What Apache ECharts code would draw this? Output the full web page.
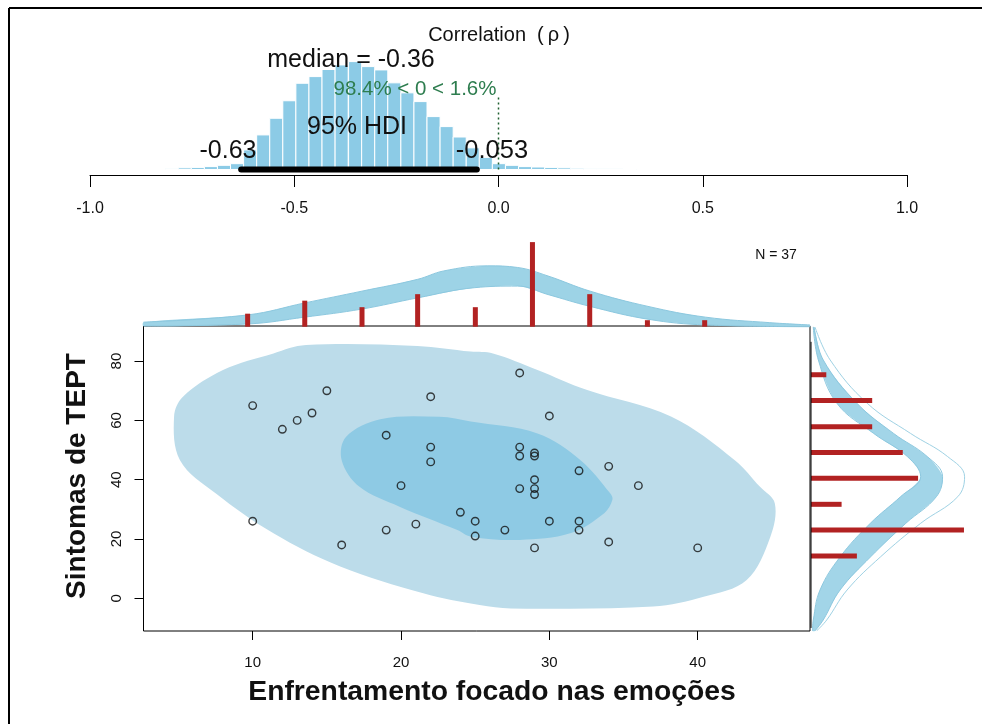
<!DOCTYPE html>
<html><head><meta charset="utf-8">
<script src="https://cdn.jsdelivr.net/npm/echarts@6/dist/echarts.min.js"></script>
<style>html,body{margin:0;padding:0;background:#fff}#c{width:982px;height:724px}</style>
</head><body><div id="c"></div>
<script>
// ---- Posterior of correlation (top panel) ----
const rhoBinCenters = [-0.800,-0.768,-0.736,-0.704,-0.672,-0.640,-0.608,-0.576,-0.544,-0.512,-0.480,-0.448,-0.416,-0.384,-0.351,-0.319,-0.287,-0.255,-0.223,-0.191,-0.159,-0.127,-0.095,-0.063,-0.031,0.001,0.033,0.065,0.097,0.129,0.161,0.193,0.225,0.257,0.289,0.321];
const rhoDensity    = [0.02,0.04,0.05,0.07,0.10,0.14,0.47,0.83,1.23,1.65,2.07,2.23,2.40,2.51,2.59,2.47,2.39,2.08,1.84,1.63,1.27,1.03,0.78,0.52,0.29,0.14,0.10,0.07,0.06,0.05,0.04,0.03,0.02,0.02,0.015,0.01];
const rhoBinWidth = 0.032;
const rhoTickValues = [-1,-0.5,0,0.5,1];
const rhoTickLabels = ['-1.0','-0.5','0.0','0.5','1.0'];
const hdiRange = [-0.63,-0.053];
const compValue = 0;
const compLineTop = 1.79;

// ---- Scatter data ----
const emoX  = [10,15,14,13,12,22,19,22,22,20,24,25,25,10,19,21,16,28,30,28,28,29,29,32,34,36,29,29,29,28,27,30,32,32,34,29,40];
const teptY = [65,70,62.5,60,57,68,55,51,46,38,29,26,21,26,23,25,18,76,61.5,51,48,48,49,43,44.5,38,40,37,35,37,23,26,26,23,19,17,17];
const xTicks = [10,20,30,40];
const yTicks = [0,20,40,60,80];

// ---- Marginal histograms ----
const xHistCenters = [9.66,13.51,17.37,21.12,25.01,28.86,32.72,36.61,40.47];
const xHistCounts  = [2,4,3,5,3,13,5,1,1];
const yHistCenters = [14.3,23.0,31.7,40.5,49.2,57.9,66.7,75.4];
const yHistCounts  = [3,10,2,7,6,4,4,1];

// ---- Marginal posterior predictive envelopes ----
const xDensUpperX = [2.64,9.69,13.5,17.36,21.12,22.88,25.81,27.86,29.91,32.75,36.65,40.52,44.86,47.57];
const xDensUpperY = [0.7,1.82,3.65,5.46,7.28,8.57,9.35,9.10,7.79,5.46,3.12,1.47,0.62,0.27];
const xDensLowerX = [2.64,9.69,13.5,17.36,21.12,24.93,27.86,29.91,32.75,36.65,40.52,47.57];
const xDensLowerY = [0.1,0.42,1.47,2.71,4.43,5.99,6.24,4.94,3.12,1.15,0.27,0];

const yDensY      = [91.5,80.4,65.8,55.6,47.8,41.0,34.3,25.3,14.0,2.8,-7.3,-11.0];
const yDensOuterC = [0.26,1.25,3.67,6.51,8.93,10.04,9.6,7.17,4.55,2.36,1.03,0.37];
const yDensMidC   = [0.2,0.8,3.0,5.4,7.6,8.6,8.2,6.2,3.9,1.9,0.8,0.26];
const yDensInnerC = [0.15,0.48,1.69,4.1,6.3,7.17,5.86,3.88,1.91,0.59,0.15,0.1];

// ---- Bivariate contours ----
const outerContourX = [4.7,5.3,8.0,11.4,13.6,21.1,24.7,26.2,29.2,32.5,38.2,42.5,44.2,45.2,44.9,43.3,40.4,37.0,27.4,25.3,21.5,15.9,11.4,7.5,5.1];
const outerContourY = [61.2,68,77,82.6,85.4,85.1,83.2,82.6,77,70.3,61.3,46.6,37.6,32,20.8,6.2,0.5,-2.8,-3.4,-2.3,1.7,10.7,21.9,35.4,46.6];
const innerContourX = [16,16.3,18.6,22.6,24.7,29.2,32.1,34.1,34.25,33.7,31.4,28,24.7,23.8,19.9,17.2];
const innerContourY = [46.6,54.5,60.4,61.2,59.6,55.6,46.6,35.4,33.2,28.7,21.9,19.7,20.8,23,30.9,37.6];

const FONT = '"Liberation Sans", Arial, Helvetica, sans-serif';
const chart = echarts.init(document.getElementById('c'));

function polySeries(xi, yi, xs, ys, fill, z, stroke) {
  return {type:'custom', xAxisIndex:xi, yAxisIndex:yi, data:[[xs[0], ys[0]]], z:z, silent:true, clip:false,
    renderItem:(p, api)=>({type:'polygon', shape:{points: xs.map((x,i)=>api.coord([x, ys[i]])), smooth:0.35},
      style:{fill: fill, stroke: stroke||null, lineWidth: 1}})};
}
function bandSeries(xi, yi, ax, ay, bx, by, fill, z) {
  return {type:'custom', xAxisIndex:xi, yAxisIndex:yi, data:[[ax[0], ay[0]]], z:z, silent:true, clip:false,
    renderItem:(p, api)=>{
      const pts = ax.map((x,i)=>api.coord([x, ay[i]])).concat(bx.map((x,i)=>api.coord([x, by[i]])).reverse());
      return {type:'polygon', shape:{points:pts, smooth:0.3}, style:{fill:fill}};
    }};
}
function curveSeries(xi, yi, xs, ys, color, w, z) {
  return {type:'line', xAxisIndex:xi, yAxisIndex:yi, data: xs.map((x,i)=>[x, ys[i]]), symbol:'none', smooth:0.4,
    lineStyle:{color:color, width:w}, z:z, silent:true, clip:false};
}

const axisTextStyle = {color:'#111', fontFamily:FONT};

const option = {
  animation:false,
  backgroundColor:'#fff',
  grid:[
    {left:90, top:44.5, width:817, height:130.5, show:false},
    {left:143.5, top:236.9, width:666.5, height:89.8, show:false},
    {left:143.5, top:326, width:666.5, height:305, show:true, borderColor:'#000', borderWidth:1, backgroundColor:'transparent', z:0},
    {left:811, top:326, width:167.2, height:305, show:false}
  ],
  xAxis:[
    {gridIndex:0, type:'value', min:-1, max:1,
      axisLine:{show:true, onZero:false, lineStyle:{color:'#000', width:1}},
      axisTick:{show:true, length:12, customValues:rhoTickValues, lineStyle:{color:'#000'}},
      axisLabel:{customValues:rhoTickValues, margin:26, fontSize:16, ...axisTextStyle,
        formatter:v=>rhoTickLabels[rhoTickValues.findIndex(t=>Math.abs(t-v)<1e-9)]},
      splitLine:{show:false}},
    {gridIndex:1, type:'value', min:2.64, max:47.57, show:false},
    {gridIndex:2, type:'value', min:2.64, max:47.57,
      axisLine:{show:false, onZero:false},
      axisTick:{show:true, length:9, customValues:xTicks, lineStyle:{color:'#000'}},
      axisLabel:{customValues:xTicks, margin:24, fontSize:15, ...axisTextStyle},
      splitLine:{show:false}},
    {gridIndex:3, type:'value', min:0, max:10.93, show:false}
  ],
  yAxis:[
    {gridIndex:0, type:'value', min:-0.132, max:3.0, show:false},
    {gridIndex:1, type:'value', min:0, max:13.8, show:false},
    {gridIndex:2, type:'value', min:-11.03, max:91.84,
      axisLine:{show:false, onZero:false},
      axisTick:{show:true, length:9, customValues:yTicks, lineStyle:{color:'#000'}},
      axisLabel:{customValues:yTicks, rotate:90, margin:19, fontSize:15, ...axisTextStyle},
      splitLine:{show:false}},
    {gridIndex:3, type:'value', min:-11.03, max:91.84, show:false}
  ],
  series:[
    // top panel: posterior histogram
    {type:'custom', xAxisIndex:0, yAxisIndex:0, clip:false, silent:true, z:2,
      data: rhoBinCenters.map((c,i)=>[c, rhoDensity[i]]),
      renderItem:(p, api)=>{
        const c = api.value(0), d = api.value(1);
        const a = api.coord([c - rhoBinWidth/2, d]);
        const b = api.coord([c + rhoBinWidth/2, 0]);
        return {type:'rect', shape:{x:a[0], y:a[1], width:b[0]-a[0], height:b[1]-a[1]},
          style:{fill:'#8ccbe6', stroke:'#ffffff', lineWidth:1}};
      }},
    {type:'line', xAxisIndex:0, yAxisIndex:0, data: hdiRange.map(v=>[v,0]), symbol:'none', silent:true,
      lineStyle:{color:'#000', width:6, cap:'round'}, z:4},
    {type:'line', xAxisIndex:0, yAxisIndex:0, data:[[compValue,0],[compValue,compLineTop]], symbol:'none', silent:true,
      lineStyle:{color:'#1f5f2f', width:1.5, type:[2,3]}, z:5},

    // scatter contours
    polySeries(2,2, outerContourX, outerContourY, '#bcdcea', 1),
    polySeries(2,2, innerContourX, innerContourY, '#8ecae4', 2),
    {type:'scatter', xAxisIndex:2, yAxisIndex:2, data: emoX.map((x,i)=>[x, teptY[i]]), symbol:'circle', symbolSize:7.5,
      itemStyle:{color:'rgba(0,0,0,0)', borderColor:'#111', borderWidth:1.4}, z:5, silent:true},

    // top marginal
    bandSeries(1,1, xDensUpperX, xDensUpperY, xDensLowerX, xDensLowerY, '#9dd3e6', 1),
    curveSeries(1,1, xDensUpperX, xDensUpperY, '#8cc8df', 1, 2),
    curveSeries(1,1, xDensLowerX, xDensLowerY, '#8cc8df', 1, 2),
    {type:'custom', xAxisIndex:1, yAxisIndex:1, clip:false, silent:true, z:4,
      data: xHistCenters.map((c,i)=>[c, xHistCounts[i]]),
      renderItem:(p, api)=>{
        const t = api.coord([api.value(0), api.value(1)]);
        const b = api.coord([api.value(0), 0]);
        return {type:'rect', shape:{x:t[0]-2.5, y:t[1], width:5, height:b[1]-t[1]}, style:{fill:'#b22222'}};
      }},

    // right marginal
    bandSeries(3,3, yDensMidC, yDensY, yDensInnerC, yDensY, '#a2d5e8', 1),
    {type:'line', xAxisIndex:3, yAxisIndex:3, data: yDensOuterC.map((c,i)=>[c, yDensY[i]]), symbol:'none', smooth:0.4,
      lineStyle:{color:'#9fd2e4', width:1}, z:2, silent:true, clip:false},
    {type:'line', xAxisIndex:3, yAxisIndex:3, data: yDensMidC.map((c,i)=>[c, yDensY[i]]), symbol:'none', smooth:0.4,
      lineStyle:{color:'#8cc8df', width:1}, z:2, silent:true, clip:false},
    {type:'line', xAxisIndex:3, yAxisIndex:3, data: yDensInnerC.map((c,i)=>[c, yDensY[i]]), symbol:'none', smooth:0.4,
      lineStyle:{color:'#8cc8df', width:1}, z:2, silent:true, clip:false},
    {type:'custom', xAxisIndex:3, yAxisIndex:3, clip:false, silent:true, z:4,
      data: yHistCenters.map((c,i)=>[yHistCounts[i], c]),
      renderItem:(p, api)=>{
        const r = api.coord([api.value(0), api.value(1)]);
        const l = api.coord([0, api.value(1)]);
        return {type:'rect', shape:{x:l[0], y:r[1]-2.5, width:r[0]-l[0], height:5}, style:{fill:'#b22222'}};
      }},
    {type:'line', xAxisIndex:3, yAxisIndex:3, data:[[0,-10.0],[0,86.5]], symbol:'none', silent:true,
      lineStyle:{color:'#000', width:1}, z:5}
  ],
  graphic:[
    {type:'line', shape:{x1:9, y1:8, x2:982, y2:8}, style:{stroke:'#000', lineWidth:2}, z:10},
    {type:'line', shape:{x1:9, y1:8, x2:9, y2:724}, style:{stroke:'#000', lineWidth:2}, z:10},
    {type:'text', x:499, y:35, z:10, style:{text:'Correlation  (\u2009\u03c1\u2009)', fontFamily:FONT, fontSize:20, fill:'#111', align:'center', verticalAlign:'middle'}},
    {type:'text', x:351, y:60, z:10, style:{text:'median = -0.36', fontFamily:FONT, fontSize:25, fill:'#111', align:'center', verticalAlign:'middle'}},
    {type:'text', x:415, y:89, z:10, style:{text:'98.4% < 0 < 1.6%', fontFamily:FONT, fontSize:20.5, fill:'#2e7d4f', align:'center', verticalAlign:'middle'}},
    {type:'text', x:357, y:127, z:10, style:{text:'95% HDI', fontFamily:FONT, fontSize:25, fill:'#111', align:'center', verticalAlign:'middle'}},
    {type:'text', x:228, y:151, z:10, style:{text:'-0.63', fontFamily:FONT, fontSize:25, fill:'#111', align:'center', verticalAlign:'middle'}},
    {type:'text', x:492, y:151, z:10, style:{text:'-0.053', fontFamily:FONT, fontSize:25.5, fill:'#111', align:'center', verticalAlign:'middle'}},
    {type:'text', x:776, y:255, z:10, style:{text:'N = 37', fontFamily:FONT, fontSize:14, fill:'#111', align:'center', verticalAlign:'middle'}},
    {type:'text', x:77, y:476, rotation:Math.PI/2, z:10, style:{text:'Sintomas de TEPT', fontFamily:FONT, fontSize:28, fontWeight:'bold', fill:'#111', align:'center', verticalAlign:'middle'}},
    {type:'text', x:492, y:692, z:10, style:{text:'Enfrentamento focado nas emoções', fontFamily:FONT, fontSize:28.3, fontWeight:'bold', fill:'#111', align:'center', verticalAlign:'middle'}}
  ]
};
chart.setOption(option);
</script>
</body></html>
